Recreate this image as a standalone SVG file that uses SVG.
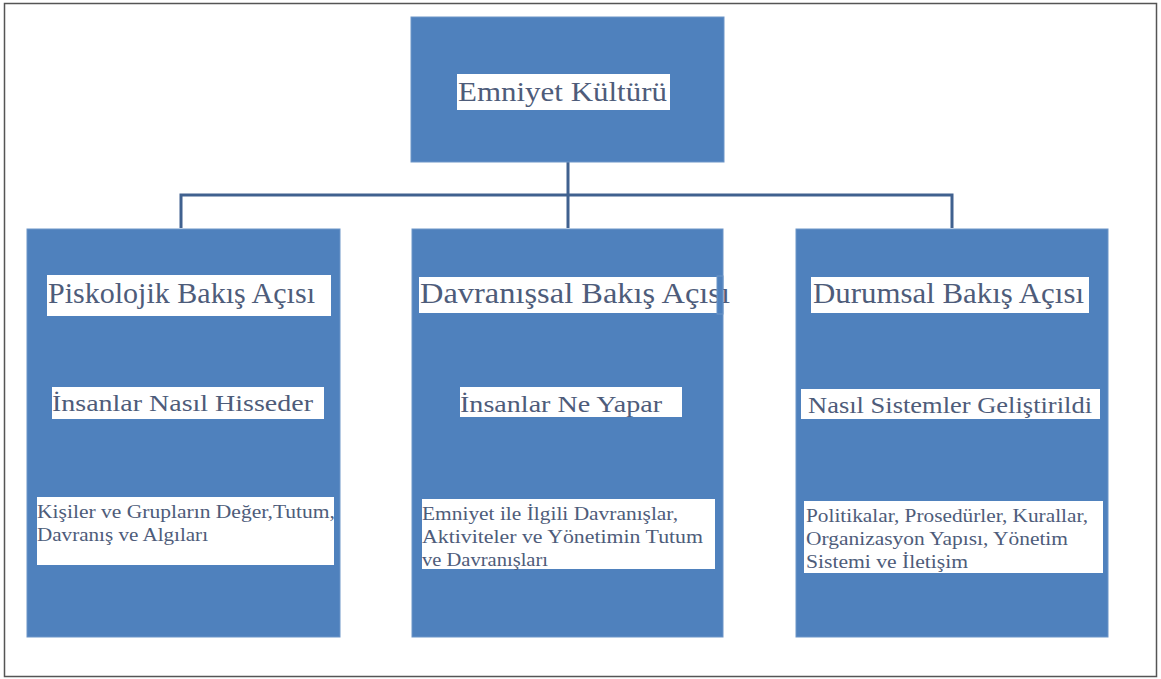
<svg xmlns="http://www.w3.org/2000/svg" width="1161" height="679" viewBox="0 0 1161 679">
<style>
.box{fill:#4f81bd;stroke:#6d95c8;stroke-width:1}
.band{fill:#ffffff}
.t{font-family:"Liberation Serif","Times New Roman",serif;fill:#4e5c7a}
.top{font-size:27px}
.big{font-size:29px}
.mid{font-size:23px}
.sm{font-size:18px}
.conn{stroke:#40618f;stroke-width:3;fill:none}
</style>
<rect x="0" y="0" width="1161" height="679" fill="#ffffff"/>
<rect x="4.5" y="3.5" width="1152" height="673" fill="none" stroke="#555555" stroke-width="1.5"/>
<g id="connectors">
<path class="conn" d="M568 162 V195 M181 228 V195 H952 V228 M568 195 V228"/>
</g>
<g id="node-emniyet">
<rect class="box" x="411" y="17" width="313" height="145"/>
<rect class="band" x="457" y="74" width="213" height="36"/>
<text class="t top" x="458" y="101" textLength="209" lengthAdjust="spacingAndGlyphs">Emniyet Kültürü</text>
</g>
<g id="node-psikolojik">
<rect class="box" x="27" y="229" width="313" height="408"/>
<rect class="band" x="47" y="275" width="284" height="41"/>
<text class="t big" x="48" y="303" textLength="267" lengthAdjust="spacingAndGlyphs">Piskolojik Bakış Açısı</text>
<rect class="band" x="52" y="387" width="272" height="32"/>
<text class="t mid" x="52" y="411" textLength="261" lengthAdjust="spacingAndGlyphs">İnsanlar Nasıl Hisseder</text>
<rect class="band" x="37" y="497" width="297" height="68"/>
<text class="t sm" x="37" y="518" textLength="298" lengthAdjust="spacingAndGlyphs">Kişiler ve Grupların Değer,Tutum,</text>
<text class="t sm" x="37" y="541" textLength="171" lengthAdjust="spacingAndGlyphs">Davranış ve Algıları</text>
</g>
<g id="node-davranissal">
<rect class="box" x="412" y="229" width="311" height="408"/>
<rect class="band" x="419" y="277" width="298" height="36"/>
<text class="t big" x="420" y="303" textLength="310" lengthAdjust="spacingAndGlyphs">Davranışsal Bakış Açısı</text>
<rect class="box" x="717" y="276" width="6" height="38" stroke="none"/>
<rect class="band" x="460" y="387" width="222" height="30"/>
<text class="t mid" x="460" y="412" textLength="202" lengthAdjust="spacingAndGlyphs">İnsanlar Ne Yapar</text>
<rect class="band" x="422" y="499" width="293" height="70"/>
<text class="t sm" x="422" y="520" textLength="256" lengthAdjust="spacingAndGlyphs">Emniyet ile İlgili Davranışlar,</text>
<text class="t sm" x="422" y="543" textLength="281" lengthAdjust="spacingAndGlyphs">Aktiviteler ve Yönetimin Tutum</text>
<text class="t sm" x="422" y="566" textLength="126" lengthAdjust="spacingAndGlyphs">ve Davranışları</text>
</g>
<g id="node-durumsal">
<rect class="box" x="796" y="229" width="312" height="408"/>
<rect class="band" x="811" y="277" width="278" height="36"/>
<text class="t big" x="813" y="303" textLength="271" lengthAdjust="spacingAndGlyphs">Durumsal Bakış Açısı</text>
<rect class="band" x="801" y="389" width="299" height="30"/>
<text class="t mid" x="808" y="413" textLength="284" lengthAdjust="spacingAndGlyphs">Nasıl Sistemler Geliştirildi</text>
<rect class="band" x="804" y="501" width="299" height="72"/>
<text class="t sm" x="806" y="522" textLength="282" lengthAdjust="spacingAndGlyphs">Politikalar, Prosedürler, Kurallar,</text>
<text class="t sm" x="806" y="545" textLength="262" lengthAdjust="spacingAndGlyphs">Organizasyon Yapısı, Yönetim</text>
<text class="t sm" x="806" y="568" textLength="162" lengthAdjust="spacingAndGlyphs">Sistemi ve İletişim</text>
</g>
</svg>
